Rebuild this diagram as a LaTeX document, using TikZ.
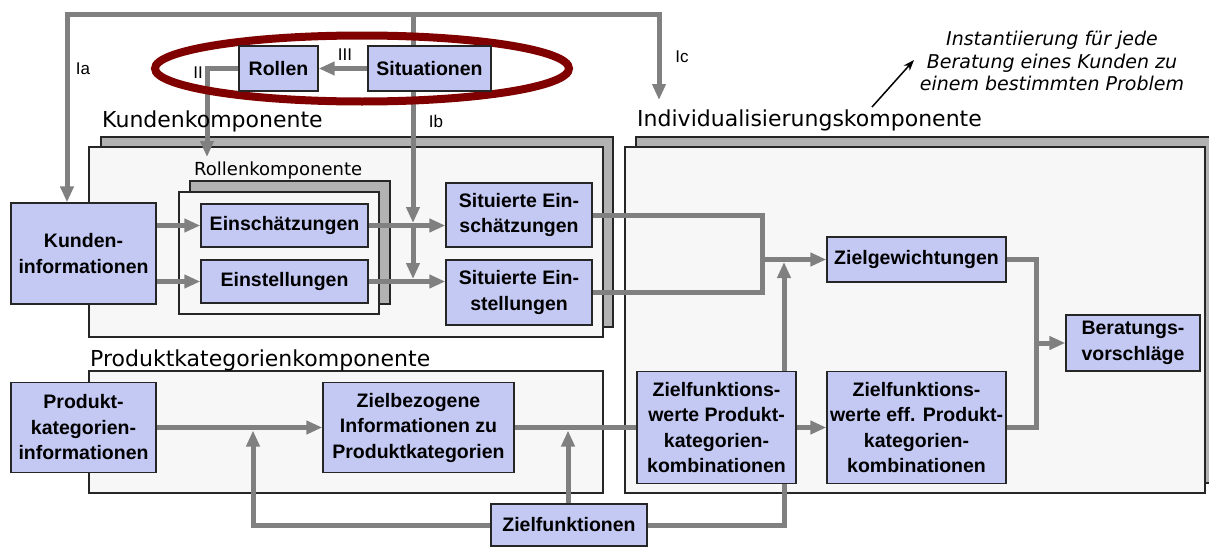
\documentclass[tikz,border=0pt]{standalone}
\usepackage{fontspec}
\setmainfont{Liberation Sans}
\newfontfamily\labfont{DejaVu Sans}
\usetikzlibrary{arrows.meta}
\definecolor{boxfill}{RGB}{196,201,244}
\definecolor{contfill}{RGB}{247,247,247}
\definecolor{shadowfill}{RGB}{178,178,178}
\definecolor{linegray}{RGB}{128,128,128}
\definecolor{ellred}{RGB}{128,0,0}
\pgfdeclarelayer{contlayer}
\pgfdeclarelayer{linelayer}
\pgfsetlayers{contlayer,linelayer,main}
\begin{document}
\begin{tikzpicture}[x=1pt,y=-1pt,
  box/.style={draw=black!85, line width=1.3pt, fill=boxfill, align=center, inner sep=0pt, font=\fontsize{19.5}{25.5}\selectfont\bfseries},
  cont/.style={draw=black!85, line width=1.3pt, fill=contfill},
  shad/.style={draw=black!85, line width=1.3pt, fill=shadowfill},
  conn/.style={draw=linegray, line width=5pt},
  arr/.style={conn, -{Triangle[length=16pt,width=13pt]}},
  lab/.style={font=\labfont\fontsize{22}{26}\selectfont, anchor=base west, inner sep=0pt},
  rom/.style={font=\fontsize{17}{20}\selectfont, inner sep=0pt},
]
\useasboundingbox (0,0) rectangle (1209,546);
% boxes
\path
  node[box, minimum width=79pt, minimum height=45pt] (rollen) at (278.5,68.5) {Rollen}
  node[box, minimum width=123pt, minimum height=45pt] (sit) at (429.5,68.5) {Situationen}
  node[box, minimum width=145pt, minimum height=101pt] (kinfo) at (83.5,253.5) {Kunden-\\informationen}
  node[box, minimum width=167pt, minimum height=43pt] (einsch) at (284.5,225.5) {Einschätzungen}
  node[box, minimum width=167pt, minimum height=43pt] (einst) at (284.5,281.5) {Einstellungen}
  node[box, minimum width=146pt, minimum height=64pt] (sitE) at (519,215) {Situierte Ein-\\schätzungen}
  node[box, minimum width=146pt, minimum height=65pt] (sitS) at (519,292.5) {Situierte Ein-\\stellungen}
  node[box, minimum width=179pt, minimum height=45pt] (zielg) at (916.5,259.5) {Zielgewichtungen}
  node[box, minimum width=134pt, minimum height=56pt] (berat) at (1133,343) {Beratungs-\\vorschläge}
  node[box, minimum width=159pt, minimum height=112pt] (zfwpk) at (716.5,427.5) {Zielfunktions-\\werte Produkt-\\kategorien-\\kombinationen}
  node[box, minimum width=179pt, minimum height=112pt] (zfweff) at (916.5,427.5) {Zielfunktions-\\werte eff. Produkt-\\kategorien-\\kombinationen}
  node[box, minimum width=145pt, minimum height=90pt] (pkinfo) at (83.5,427.5) {Produkt-\\kategorien-\\informationen}
  node[box, minimum width=191pt, minimum height=90pt] (zbi) at (418.5,427.5) {Zielbezogene\\Informationen zu\\Produktkategorien}
  node[box, minimum width=156pt, minimum height=42pt] (zf) at (569,525) {Zielfunktionen};
% container labels
\node[lab] (lkk) at (102,127) {Kundenkomponente};
\node[lab, font=\labfont\fontsize{18}{22}\selectfont] (lrk) at (194,175) {Rollenkomponente};
\node[lab] (lik) at (637,126) {Individualisierungskomponente};
\node[lab] (lpk) at (90,366) {Produktkategorienkomponente};
% roman labels
\node[rom] (la) at (83,69) {Ia};
\node[rom] (lii) at (198,73) {II};
\node[rom] (liii) at (345,55) {III};
\node[rom] (lb) at (436,121) {Ib};
\node[rom] (lc) at (682,57) {Ic};
% annotation
\node[font=\labfont\itshape\fontsize{19}{22.5}\selectfont, align=center, inner sep=0pt] (ann) at (1052,61) {Instantiierung für jede\\Beratung eines Kunden zu\\einem bestimmten Problem};
% coordinates
\coordinate (top) at (413,14.5);
\coordinate (topL) at (67,14.5);
\coordinate (topR) at (659,14.5);
\coordinate (icEnd) at (659,100);
\coordinate (ib1) at (413,223);
\coordinate (ib2) at (413,279);
\coordinate (iiEnd) at (207,157);
\coordinate (jn) at (762,259.5);
\coordinate (zfj) at (784,262);
\coordinate (bj) at (1036,343);
\coordinate (zfa) at (253,430.5);
\coordinate (zfb) at (568,430.5);
\coordinate (annS) at (872,107);
\coordinate (annT) at (914,60);
\draw[black, line width=1.5pt, -{Stealth[length=11pt,width=8pt]}] (annS) -- (annT);
% containers
\begin{pgfonlayer}{contlayer}
\draw[shad] (101,137) rectangle (613,327);
\draw[cont] (89,147) rectangle (603,337);
\draw[shad] (190,181) rectangle (390,304);
\draw[cont] (179,192) rectangle (379,314);
\draw[shad] (636,137) rectangle (1218,483);
\draw[cont] (625,147) rectangle (1205,493);
\draw[cont] (89,371) rectangle (603,493);
\end{pgfonlayer}
% connectors
\begin{pgfonlayer}{linelayer}
\draw[arr] (sit.north -| top) -- (top) -- (topL) -- (kinfo.north -| topL);
\draw[arr] (top) -- (topR) -- (icEnd);
\draw[arr] (sit.south -| ib1) -- (ib1);
\draw[arr] (ib1) -- (ib2);
\draw[arr] (sit.west) -- (rollen.east);
\draw[arr] (rollen.west) -| (iiEnd);
\draw[arr] (kinfo.east |- einsch.west) -- (einsch.west);
\draw[arr] (kinfo.east |- einst.west) -- (einst.west);
\draw[arr] (einsch.east) -- (einsch.east -| sitE.west);
\draw[arr] (einst.east) -- (einst.east -| sitS.west);
\draw[conn] (sitE.east) -| (jn);
\draw[conn] (sitS.east) -| (jn);
\draw[arr] (jn) -- (zielg.west);
\draw[arr] (zf.east) -| (zfj);
\draw[conn] (zielg.east) -| (bj);
\draw[conn] (zfweff.east) -| (bj);
\draw[arr] (bj) -- (berat.west);
\draw[arr] (zfwpk.east) -- (zfweff.west);
\draw[arr] (pkinfo.east) -- (zbi.west);
\draw[conn] (zbi.east) -- (zfwpk.west);
\draw[arr] (zf.west) -| (zfa);
\draw[arr] (zf.north -| zfb) -- (zfb);
\draw[ellred, line width=8pt] (362,68.5) ellipse [x radius=207pt, y radius=33pt];
\end{pgfonlayer}
\end{tikzpicture}
\end{document}
